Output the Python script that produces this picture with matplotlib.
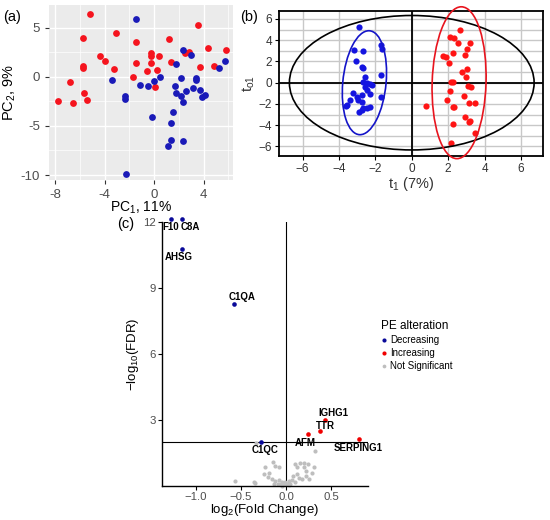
import matplotlib
matplotlib.use("Agg")
import matplotlib.pyplot as plt
from matplotlib.patches import Ellipse
from matplotlib.ticker import MultipleLocator, FixedLocator

plt.rcParams['font.family'] = ['Liberation Sans', 'DejaVu Sans']
plt.rcParams['mathtext.fontset'] = 'custom'
plt.rcParams['mathtext.rm'] = 'Liberation Sans'
plt.rcParams['mathtext.it'] = 'Liberation Sans:italic'

# ---------- (a) PCA scores ----------
pca_red_x = [-5.16, -5.78, -3.09, -1.48, 1.24, 3.52, -4.41, -3.95, -5.75, -5.75, -3.25, -1.45,
             -0.27, -0.24, 0.43, -0.27, 1.40, -0.59, 0.24, -1.72, 0.11, -6.77, -5.70, -5.43,
             -6.56, -7.80, 2.53, 2.85, 4.35, 5.78, 3.74, 4.84]
pca_red_y = [6.38, 3.97, 4.48, 3.50, 3.87, 5.26, 2.17, 1.59, 1.15, 0.92, 0.78, 1.43,
             2.38, 2.17, 2.10, 1.43, 1.53, 0.58, 0.68, 0.00, -1.02, -0.48, -1.66, -2.38,
             -2.71, -2.44, 2.41, 2.54, 2.99, 2.78, 0.98, 1.15]
pca_blue_x = [-1.48, 2.37, 3.01, 1.75, 5.70, 5.24, -3.41, 0.48, 0.00, -1.10, -0.51, 2.15,
              3.36, 3.41, 1.67, 1.77, 2.58, 3.17, 3.71, 3.84, 4.09, 2.18, 2.31, -2.37,
              -2.34, -0.16, 1.51, 1.37, 1.37, 1.10, 2.31, -2.28]
pca_blue_y = [5.94, 2.75, 2.21, 1.32, 1.66, 0.95, -0.31, 0.03, -0.44, -0.88, -0.95, -0.10,
              -0.10, -0.34, -0.98, -1.66, -1.43, -1.15, -1.36, -2.04, -1.83, -1.90, -2.58, -1.93,
              -2.24, -4.07, -3.63, -4.68, -6.41, -7.06, -6.52, -9.87]

# ---------- (b) OPLS-DA scores ----------
opls_blue_t1 = [-2.90, -1.69, -1.65, -3.17, -2.66, -3.06, -2.73, -2.66, -2.58, -1.71, -2.66,
                -2.48, -2.30, -2.21, -2.57, -2.48, -2.75, -3.20, -2.30, -1.69, -2.99, -3.39,
                -2.94, -2.75, -3.57, -2.66, -2.30, -2.48, -2.88, -2.73, -3.60]
opls_blue_to1 = [5.23, 3.56, 3.18, 3.10, 2.99, 2.08, 1.51, 1.42, 0.50, 0.70, 0.10,
                 -0.05, -0.14, -0.20, -0.43, -0.69, -1.16, -1.00, -1.10, -1.32, -1.32, -1.63,
                 -1.63, -1.79, -2.10, -2.42, -2.32, -2.42, -2.74, -2.58, -2.20]
opls_red_t1 = [2.65, 2.10, 2.34, 2.53, 3.21, 3.02, 1.70, 1.87, 2.29, 2.95, 2.07, 3.06,
               2.75, 2.97, 2.29, 2.14, 3.08, 3.24, 2.10, 2.89, 1.92, 3.17, 3.48, 0.77,
               2.29, 2.34, 2.93, 3.21, 3.15, 2.25, 3.48, 2.14]
opls_red_to1 = [4.97, 4.34, 4.25, 3.72, 3.72, 3.15, 2.55, 2.39, 2.77, 2.62, 1.89, 1.29,
                1.04, 0.50, 0.10, 0.07, -0.32, -0.44, -0.75, -1.22, -1.63, -1.95, -1.95, -2.17,
                -2.32, -2.32, -3.27, -3.58, -3.71, -3.90, -4.78, -5.63]
# confidence ellipses: centre, full width, full height, angle
ell_all = [(0.0, 0.0), 13.44, 12.66, 0]
ell_blue = [(-2.6, 0.0), 2.38, 9.8, -3]
ell_red = [(2.6, 0.0), 2.96, 14.3, -1]

# ---------- (c) volcano ----------
genes = ["F10", "C8A", "AHSG", "C1QA", "C1QC", "IGHG1", "TTR", "AFM", "SERPING1"]
gene_fc = [-1.278, -1.159, -1.159, -0.578, -0.281, 0.433, 0.378, 0.248, 0.814]
gene_fdr = [12.15, 12.15, 10.79, 8.29, 2.03, 3.0, 2.5, 2.36, 2.13]
gene_status = ["Decreasing", "Decreasing", "Decreasing", "Decreasing", "Decreasing",
               "Increasing", "Increasing", "Increasing", "Increasing"]
ns_fc = [0.32, -0.14, -0.12, -0.23, -0.08, 0.10, 0.16, 0.20, 0.24, 0.31, 0.12, 0.20,
         0.22, 0.12, 0.08, 0.14, 0.22, -0.19, -0.24, -0.20, -0.15, -0.12, -0.08, -0.04,
         -0.01, 0.03, 0.07, 0.10, -0.05, -0.02, 0.01, 0.05, -0.09, 0.03, -0.04, -0.57,
         -0.34, -0.13, 0.18, 0.25, -0.33, -0.36, 0.29]
ns_fdr = [1.58, 1.11, 0.93, 0.88, 0.85, 1.03, 1.07, 1.07, 1.03, 0.88, 0.88, 0.85,
          0.69, 0.54, 0.47, 0.39, 0.47, 0.62, 0.54, 0.42, 0.32, 0.24, 0.27, 0.21,
          0.17, 0.24, 0.27, 0.21, 0.12, 0.09, 0.09, 0.12, 0.09, 0.05, 0.03, 0.23,
          0.16, 0.09, 0.32, 0.32, 1.98, 0.18, 0.60]
# label placement in points (dx, dy) and alignment
label_offsets = {"F10": (0, -6), "C8A": (-1, -6), "AHSG": (-2, -6), "C1QA": (6, 4.5),
                 "C1QC": (3, -6), "IGHG1": (6, 5), "TTR": (4, 3.5), "AFM": (-2, -6),
                 "SERPING1": (-1, -6)}
label_ha = {"C8A": "left"}
fdr_cut = 2.0

status_colors = {"Decreasing": "#0A0A99", "Increasing": "#F00000", "Not Significant": "#BEBEBE"}

fig = plt.figure(figsize=(5.5, 5.2), dpi=100)

# ----- panel a -----
ax1 = fig.add_axes([0.089, 0.654, 0.335, 0.336])
ax1.set_facecolor("#EBEBEB")
ax1.scatter(pca_red_x, pca_red_y, s=24, color="#F5141E", zorder=3, linewidths=0)
ax1.scatter(pca_blue_x, pca_blue_y, s=24, color="#1A1AB8", zorder=3, linewidths=0)
ax1.set_xlim(-8.5, 6.4)
ax1.set_ylim(-10.5, 7.3)
ax1.xaxis.set_major_locator(FixedLocator([-8, -4, 0, 4]))
ax1.xaxis.set_minor_locator(FixedLocator([-6, -2, 2, 6]))
ax1.yaxis.set_major_locator(FixedLocator([-10, -5, 0, 5]))
ax1.yaxis.set_minor_locator(FixedLocator([-7.5, -2.5, 2.5]))
ax1.grid(which="major", color="white", lw=1.0)
ax1.grid(which="minor", color="white", lw=0.5)
ax1.set_axisbelow(True)
for s in ax1.spines.values():
    s.set_visible(False)
ax1.tick_params(which="major", length=3, color="#333333", labelcolor="#4D4D4D", labelsize=9.5)
ax1.tick_params(which="minor", length=0)
ax1.set_xticklabels(["-8", "-4", "0", "4"])
ax1.set_yticklabels(["-10", "-5", "0", "5"])
ax1.set_xlabel("PC$_1$, 11%", fontsize=10, labelpad=-1)
ax1.set_ylabel("PC$_2$, 9%", fontsize=10.5, labelpad=2)

# ----- panel b -----
ax2 = fig.add_axes([0.507, 0.700, 0.480, 0.279])
ax2.scatter(opls_blue_t1, opls_blue_to1, s=20, color="#1414E0", zorder=3, linewidths=0)
ax2.scatter(opls_red_t1, opls_red_to1, s=20, color="#FF1414", zorder=3, linewidths=0)
ax2.add_patch(Ellipse(ell_all[0], ell_all[1], ell_all[2], angle=ell_all[3], fill=False,
                      color="black", lw=1.2, zorder=4, clip_on=False))
ax2.add_patch(Ellipse(ell_blue[0], ell_blue[1], ell_blue[2], angle=ell_blue[3], fill=False,
                      color="#1414C8", lw=1.2, zorder=4, clip_on=False))
ax2.add_patch(Ellipse(ell_red[0], ell_red[1], ell_red[2], angle=ell_red[3], fill=False,
                      color="#E8141E", lw=1.2, zorder=4, clip_on=False))
ax2.axhline(0, color="black", lw=1.3, zorder=2)
ax2.axvline(0, color="black", lw=1.3, zorder=2)
ax2.set_xlim(-7.3, 7.2)
ax2.set_ylim(-6.9, 6.76)
ax2.yaxis.set_minor_locator(MultipleLocator(1))
ax2.set_xticks([-6, -4, -2, 0, 2, 4, 6])
ax2.set_xticklabels(["\u22126", "\u22124", "\u22122", "0", "2", "4", "6"])
ax2.set_yticks([-6, -4, -2, 0, 2, 4, 6])
ax2.set_yticklabels(["\u22126", "\u22124", "\u22122", "0", "2", "4", "6"])
ax2.grid(which="major", color="#C8C8C8", lw=1.0)
ax2.grid(which="minor", axis="y", color="#C8C8C8", lw=1.0)
ax2.set_axisbelow(True)
for s in ax2.spines.values():
    s.set_linewidth(1.3)
ax2.tick_params(which="major", length=3, labelsize=8.5, labelcolor="#333333", pad=2)
ax2.tick_params(which="minor", length=0)
ax2.set_xlabel("t$_1$ (7%)", fontsize=10.5, labelpad=0, color="#333333")
ax2.set_ylabel("t$_\\mathrm{o1}$", fontsize=10.5, labelpad=1, color="#333333")

# ----- panel c -----
ax3 = fig.add_axes([0.294, 0.065, 0.375, 0.508])
ax3.scatter(ns_fc, ns_fdr, s=9, color=status_colors["Not Significant"], linewidths=0,
            zorder=2, label="Not Significant", clip_on=False)
for st in ["Decreasing", "Increasing"]:
    xs = [f for f, g in zip(gene_fc, gene_status) if g == st]
    ys = [v for v, g in zip(gene_fdr, gene_status) if g == st]
    ax3.scatter(xs, ys, s=11, color=status_colors[st], linewidths=0, zorder=3,
                label=st, clip_on=False)
for g, f, v in zip(genes, gene_fc, gene_fdr):
    ax3.annotate(g, (f, v), xytext=label_offsets[g], textcoords="offset points",
                 ha=label_ha.get(g, "center"), va="center", fontsize=7, fontweight="bold",
                 annotation_clip=False)
ax3.axhline(fdr_cut, color="black", lw=0.8, zorder=1)
ax3.axvline(0, color="black", lw=0.8, zorder=1)
ax3.set_xlim(-1.38, 0.91)
ax3.set_ylim(0, 12.0)
ax3.set_xticks([-1.0, -0.5, 0.0, 0.5])
ax3.set_xticklabels(["\u22121.0", "\u22120.5", "0.0", "0.5"])
ax3.set_yticks([3, 6, 9, 12])
ax3.spines["top"].set_visible(False)
ax3.spines["right"].set_visible(False)
ax3.spines["left"].set_linewidth(1.0)
ax3.spines["bottom"].set_linewidth(1.0)
ax3.tick_params(length=3, labelsize=8.2, labelcolor="#4D4D4D", pad=1)
ax3.set_xlabel("log$_2$(Fold Change)", fontsize=9.5)
ax3.xaxis.set_label_coords(0.5, -0.06)
ax3.set_ylabel("\u2212log$_{10}$(FDR)", fontsize=9.5, labelpad=2)

h, l = ax3.get_legend_handles_labels()
order = [l.index("Decreasing"), l.index("Increasing"), l.index("Not Significant")]
leg = ax3.legend([h[i] for i in order], [l[i] for i in order], title="PE alteration",
                 loc="upper left", bbox_to_anchor=(0.693, 0.385), bbox_transform=fig.transFigure,
                 frameon=False, fontsize=7, title_fontsize=8.5, markerscale=0.9,
                 handletextpad=0.4, labelspacing=0.3, borderaxespad=0, borderpad=0,
                 handlelength=0.5)
leg._legend_box.align = "left"

fig.text(0.022, 0.968, "(a)", fontsize=10.5, ha="center", va="center")
fig.text(0.453, 0.968, "(b)", fontsize=10.5, ha="center", va="center")
fig.text(0.228, 0.569, "(c)", fontsize=10.5, ha="center", va="center")

fig.savefig("out.png", dpi=100)
